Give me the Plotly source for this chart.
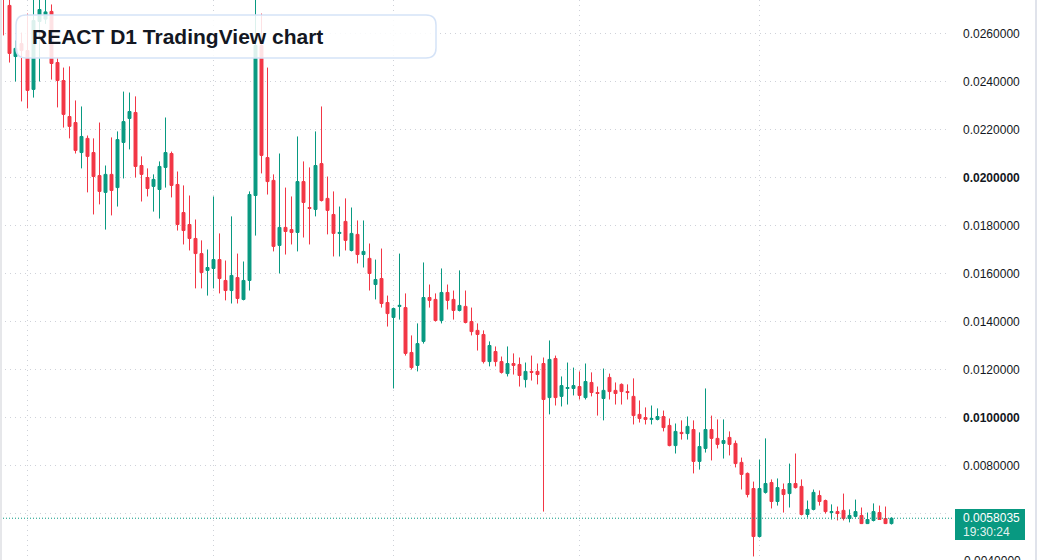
import pandas as pd
import plotly.graph_objects as go

# ---------------- data (REACT, daily) ----------------
start_date = "2023-02-25"
opens = [0.02800, 0.02717, 0.02504, 0.02558, 0.02529, 0.02367, 0.02650, 0.02660, 0.02692, 0.02479,
         0.02404, 0.02254, 0.02229, 0.02104, 0.02163, 0.02104, 0.02008, 0.01938, 0.02013, 0.01958,
         0.02146, 0.02246, 0.02271, 0.02050, 0.02000, 0.01963, 0.01950, 0.02042, 0.02100, 0.01971,
         0.01854, 0.01804, 0.01746, 0.01683, 0.01613, 0.01621, 0.01658, 0.01571, 0.01529, 0.01583,
         0.01492, 0.01571, 0.01925, 0.02550, 0.02083, 0.01988, 0.01717, 0.01792, 0.01783, 0.01771,
         0.01983, 0.01875, 0.01867, 0.02058, 0.01913, 0.01846, 0.01767, 0.01817, 0.01696, 0.01763,
         0.01679, 0.01663, 0.01554, 0.01579, 0.01479, 0.01417, 0.01463, 0.01458, 0.01271, 0.01217,
         0.01317, 0.01500, 0.01492, 0.01404, 0.01521, 0.01492, 0.01446, 0.01463, 0.01400, 0.01363,
         0.01346, 0.01233, 0.01275, 0.01233, 0.01183, 0.01225, 0.01221, 0.01158, 0.01192, 0.01192,
         0.01225, 0.01083, 0.01246, 0.01088, 0.01121, 0.01121, 0.01129, 0.01083, 0.01146, 0.01104,
         0.01079, 0.01167, 0.01113, 0.01138, 0.01108, 0.01088, 0.01013, 0.01000, 0.00992, 0.00992,
         0.01004, 0.00967, 0.00883, 0.00938, 0.00933, 0.00950, 0.00817, 0.00871, 0.00950, 0.00913,
         0.00892, 0.00917, 0.00892, 0.00813, 0.00767, 0.00704, 0.00504, 0.00688, 0.00729, 0.00650,
         0.00700, 0.00683, 0.00725, 0.00713, 0.00596, 0.00617, 0.00675, 0.00654, 0.00604, 0.00608,
         0.00613, 0.00579, 0.00588, 0.00592, 0.00558, 0.00571, 0.00604, 0.00579, 0.00558]
highs = [0.02820, 0.02750, 0.02571, 0.02604, 0.02683, 0.02760, 0.02770, 0.02740, 0.02721, 0.02500,
         0.02458, 0.02463, 0.02321, 0.02296, 0.02175, 0.02163, 0.02229, 0.02050, 0.02167, 0.02192,
         0.02358, 0.02354, 0.02338, 0.02088, 0.02038, 0.02013, 0.02067, 0.02250, 0.02108, 0.02025,
         0.01967, 0.01925, 0.01825, 0.01738, 0.01700, 0.01921, 0.01767, 0.01654, 0.01838, 0.01683,
         0.01650, 0.01942, 0.02780, 0.02683, 0.02458, 0.02013, 0.02100, 0.01958, 0.01921, 0.02171,
         0.02067, 0.02042, 0.02192, 0.02296, 0.02004, 0.01942, 0.01879, 0.01913, 0.01875, 0.01821,
         0.01821, 0.01725, 0.01658, 0.01704, 0.01508, 0.01458, 0.01683, 0.01517, 0.01342, 0.01392,
         0.01646, 0.01554, 0.01517, 0.01621, 0.01554, 0.01529, 0.01613, 0.01529, 0.01458, 0.01392,
         0.01363, 0.01317, 0.01296, 0.01254, 0.01296, 0.01267, 0.01250, 0.01229, 0.01258, 0.01225,
         0.01250, 0.01321, 0.01258, 0.01171, 0.01229, 0.01208, 0.01192, 0.01225, 0.01188, 0.01129,
         0.01204, 0.01183, 0.01146, 0.01142, 0.01138, 0.01163, 0.01071, 0.01042, 0.01050, 0.01038,
         0.01029, 0.00996, 0.00975, 0.00988, 0.01004, 0.00988, 0.00938, 0.01121, 0.01008, 0.00992,
         0.00992, 0.00942, 0.00904, 0.00833, 0.00771, 0.00733, 0.00825, 0.00913, 0.00742, 0.00746,
         0.00725, 0.00808, 0.00850, 0.00742, 0.00654, 0.00700, 0.00696, 0.00658, 0.00638, 0.00629,
         0.00683, 0.00617, 0.00658, 0.00625, 0.00604, 0.00642, 0.00633, 0.00629, 0.00584]
lows = [0.02592, 0.02479, 0.02400, 0.02317, 0.02288, 0.02333, 0.02400, 0.02640, 0.02408, 0.02292,
        0.02208, 0.02163, 0.02100, 0.02038, 0.01938, 0.01846, 0.01888, 0.01783, 0.01842, 0.01879,
        0.01996, 0.02117, 0.02000, 0.01900, 0.01921, 0.01858, 0.01829, 0.01958, 0.01917, 0.01779,
        0.01721, 0.01696, 0.01538, 0.01538, 0.01508, 0.01538, 0.01517, 0.01488, 0.01475, 0.01475,
        0.01488, 0.01529, 0.01758, 0.02017, 0.01929, 0.01692, 0.01600, 0.01679, 0.01721, 0.01692,
        0.01750, 0.01721, 0.01838, 0.01900, 0.01763, 0.01671, 0.01671, 0.01696, 0.01692, 0.01642,
        0.01625, 0.01529, 0.01492, 0.01458, 0.01379, 0.01121, 0.01408, 0.01258, 0.01200, 0.01192,
        0.01308, 0.01458, 0.01400, 0.01392, 0.01450, 0.01408, 0.01442, 0.01392, 0.01342, 0.01279,
        0.01225, 0.01213, 0.01213, 0.01183, 0.01171, 0.01179, 0.01129, 0.01125, 0.01154, 0.01138,
        0.00608, 0.01013, 0.01050, 0.01046, 0.01054, 0.01092, 0.01075, 0.01075, 0.01088, 0.01008,
        0.00988, 0.01075, 0.01054, 0.01054, 0.01075, 0.00971, 0.00979, 0.00971, 0.00971, 0.00988,
        0.00942, 0.00880, 0.00850, 0.00908, 0.00908, 0.00767, 0.00783, 0.00854, 0.00821, 0.00871,
        0.00829, 0.00842, 0.00792, 0.00700, 0.00667, 0.00421, 0.00500, 0.00683, 0.00621, 0.00633,
        0.00604, 0.00625, 0.00704, 0.00592, 0.00583, 0.00613, 0.00633, 0.00600, 0.00575, 0.00571,
        0.00571, 0.00563, 0.00583, 0.00556, 0.00556, 0.00567, 0.00573, 0.00556, 0.00554]
closes = [0.02750, 0.02517, 0.02538, 0.02529, 0.02363, 0.02654, 0.02700, 0.02690, 0.02475, 0.02404,
          0.02263, 0.02213, 0.02113, 0.02171, 0.02088, 0.02004, 0.01942, 0.02013, 0.01946, 0.02158,
          0.02233, 0.02275, 0.02046, 0.02013, 0.01954, 0.01992, 0.02046, 0.02104, 0.01967, 0.01804,
          0.01779, 0.01746, 0.01683, 0.01604, 0.01625, 0.01658, 0.01579, 0.01529, 0.01592, 0.01496,
          0.01571, 0.01929, 0.02550, 0.02092, 0.01983, 0.01713, 0.01792, 0.01775, 0.01771, 0.01983,
          0.01896, 0.01871, 0.02050, 0.01904, 0.01863, 0.01767, 0.01771, 0.01738, 0.01767, 0.01679,
          0.01692, 0.01600, 0.01575, 0.01475, 0.01433, 0.01454, 0.01467, 0.01267, 0.01208, 0.01308,
          0.01500, 0.01488, 0.01404, 0.01521, 0.01488, 0.01446, 0.01467, 0.01396, 0.01358, 0.01346,
          0.01233, 0.01300, 0.01233, 0.01188, 0.01225, 0.01217, 0.01175, 0.01192, 0.01188, 0.01179,
          0.01075, 0.01242, 0.01083, 0.01133, 0.01125, 0.01133, 0.01092, 0.01150, 0.01104, 0.01100,
          0.01113, 0.01108, 0.01100, 0.01108, 0.01104, 0.01008, 0.00996, 0.00992, 0.00996, 0.01004,
          0.00958, 0.00883, 0.00942, 0.00933, 0.00963, 0.00817, 0.00879, 0.00950, 0.00913, 0.00888,
          0.00904, 0.00888, 0.00808, 0.00763, 0.00679, 0.00504, 0.00704, 0.00725, 0.00650, 0.00708,
          0.00679, 0.00725, 0.00708, 0.00596, 0.00617, 0.00688, 0.00650, 0.00608, 0.00608, 0.00600,
          0.00579, 0.00592, 0.00608, 0.00558, 0.00575, 0.00608, 0.00575, 0.00558, 0.0058035]

price_ticks = [0.004, 0.006, 0.008, 0.010, 0.012, 0.014, 0.016, 0.018, 0.020, 0.022, 0.024, 0.026]
bold_ticks = [0.010, 0.020]
last_price = 0.0058035
last_price_text = "0.0058035"
countdown_text = "19:30:24"
title_text = "REACT D1 TradingView chart"

dates = pd.date_range(start_date, periods=len(opens), freq="D")

# ---------------- layout constants ----------------
W, H = 1037, 560
PLOT_W = 946
PX_PER_DAY = 6.0
PX_PER_UNIT = 24000.0
UP, DOWN = "#089981", "#F23645"
GRID = "#cfd2d9"
TXT = "#131722"
FONT = "Liberation Sans, Arial, sans-serif"

def px_x(px):
    return px / PLOT_W

def px_y(py):
    return 1 - py / H

fig = go.Figure(go.Candlestick(
    x=dates, open=opens, high=highs, low=lows, close=closes,
    increasing=dict(line=dict(color=UP, width=1), fillcolor=UP),
    decreasing=dict(line=dict(color=DOWN, width=1), fillcolor=DOWN),
    whiskerwidth=0, hoverinfo="skip",
))

# half-pixel offsets keep 1px wicks / grid lines crisp
x0 = dates[0] - pd.Timedelta(days=3.5 / PX_PER_DAY)
x1 = x0 + pd.Timedelta(days=PLOT_W / PX_PER_DAY)
y_top = 0.026 + 33.5 / PX_PER_UNIT
y_bot = y_top - H / PX_PER_UNIT

tick_labels = []
for v in price_ticks:
    s = f"{v:.7f}"
    tick_labels.append(f"<b>{s}</b>" if any(abs(v - b) < 1e-9 for b in bold_ticks) else s)

fig.update_layout(
    width=W, height=H,
    margin=dict(l=0, r=W - PLOT_W, t=0, b=0),
    paper_bgcolor="white", plot_bgcolor="white",
    showlegend=False, boxgap=0.3,
    font=dict(family=FONT, size=12, color=TXT),
    xaxis=dict(
        type="date", range=[x0, x1], rangeslider=dict(visible=False),
        showticklabels=False, ticks="", showgrid=True, gridcolor=GRID, griddash="1px,4px",
        gridwidth=1, tick0="2023-03-01", dtick="M1", zeroline=False, showline=False,
        fixedrange=True,
    ),
    yaxis=dict(
        side="right", range=[y_bot, y_top],
        tickvals=price_ticks, ticktext=tick_labels, ticks="",
        showgrid=True, gridcolor=GRID, griddash="1px,4px", gridwidth=1,
        zeroline=False, showline=False, ticklabelstandoff=16,
        tickfont=dict(family=FONT, size=12, color=TXT), fixedrange=True,
    ),
)

# rounded title box (paper coords from pixel geometry)
bx0, by0, bx1, by1, r = 16, 15, 436, 58, 10
def P(x, y):
    return f"{px_x(x):.5f},{px_y(y):.5f}"
path = (f"M {P(bx0 + r, by0)} L {P(bx1 - r, by0)} Q {P(bx1, by0)} {P(bx1, by0 + r)} "
        f"L {P(bx1, by1 - r)} Q {P(bx1, by1)} {P(bx1 - r, by1)} "
        f"L {P(bx0 + r, by1)} Q {P(bx0, by1)} {P(bx0, by1 - r)} "
        f"L {P(bx0, by0 + r)} Q {P(bx0, by0)} {P(bx0 + r, by0)} Z")

shapes = [
    dict(type="path", path=path, xref="paper", yref="paper",
         fillcolor="rgba(255,255,255,0.86)", line=dict(color="#d5e3f7", width=1.5), layer="above"),
    dict(type="line", xref="paper", yref="y", x0=0, x1=px_x(954), y0=last_price, y1=last_price,
         line=dict(color=UP, width=1, dash="1px,2px"), layer="above"),
    dict(type="rect", xref="paper", yref="paper", x0=px_x(955), x1=px_x(1025),
         y0=px_y(540), y1=px_y(509), fillcolor=UP, line=dict(width=0), layer="above"),
    dict(type="line", xref="paper", yref="paper", x0=px_x(1), x1=px_x(1), y0=0, y1=1,
         line=dict(color="#e6e7ea", width=2)),
    dict(type="line", xref="paper", yref="paper", x0=px_x(1036), x1=px_x(1036), y0=0, y1=1,
         line=dict(color="#e0e3eb", width=2)),
]
fig.update_layout(shapes=shapes)

annotations = [
    dict(text=title_text, xref="paper", yref="paper", x=px_x(30), y=px_y(37),
         xanchor="left", yanchor="middle", showarrow=False,
         font=dict(family=FONT, size=21, color=TXT, weight="bold")),
    dict(text=last_price_text, xref="paper", yref="paper", x=px_x(961), y=px_y(518),
         xanchor="left", yanchor="middle", showarrow=False,
         font=dict(family=FONT, size=12, color="white")),
    dict(text=countdown_text, xref="paper", yref="paper", x=px_x(961), y=px_y(532),
         xanchor="left", yanchor="middle", showarrow=False,
         font=dict(family=FONT, size=12, color="rgba(255,255,255,0.9)")),
    dict(text=f"{price_ticks[0]:.7f}", xref="paper", yref="paper", x=px_x(962), y=px_y(561),
         xanchor="left", yanchor="middle", showarrow=False,
         font=dict(family=FONT, size=12, color=TXT)),
]
fig.update_layout(annotations=annotations)

fig.write_html("out.html", config=dict(displayModeBar=False, staticPlot=True))
